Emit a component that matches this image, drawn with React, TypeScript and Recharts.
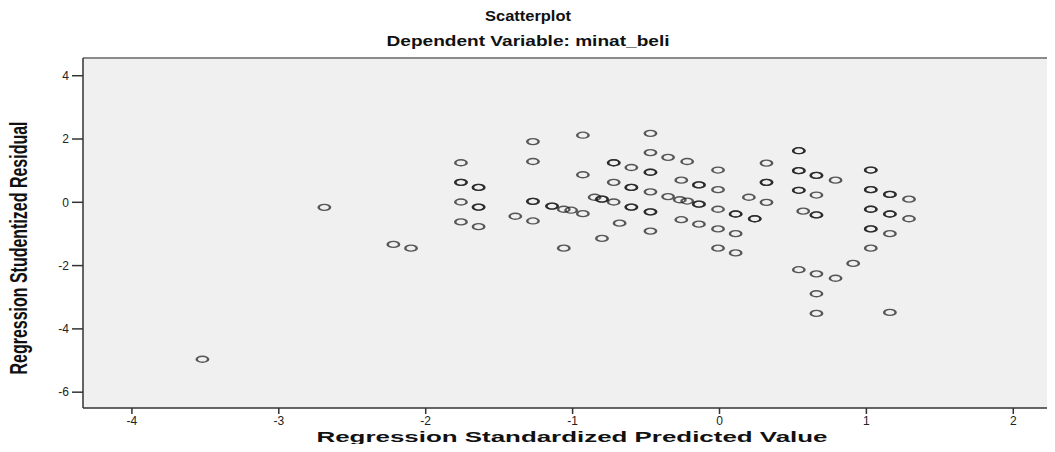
import React from "react";
import {
  ScatterChart,
  Scatter,
  XAxis,
  YAxis,
  CartesianGrid,
  ReferenceLine
} from "recharts";

// standardized predicted values (x); repeated entries are overlapping cases
const predicted = [
  -3.52, -2.69, -2.22, -2.1,
  -1.76, -1.76, -1.76, -1.76, -1.76, -1.64, -1.64, -1.64, -1.64, -1.64,
  -1.39, -1.27, -1.27, -1.27, -1.27, -1.27, -1.14, -1.14, -1.06, -1.01, -0.93, -1.06,
  -0.93, -0.93, -0.85, -0.8, -0.8, -0.72, -0.8, -0.72, -0.72, -0.72, -0.68,
  -0.6, -0.6, -0.6, -0.6, -0.6,
  -0.47, -0.47, -0.47, -0.47, -0.47, -0.47, -0.47, -0.47,
  -0.35, -0.35, -0.22, -0.26, -0.14, -0.14, -0.27, -0.22, -0.14, -0.14, -0.26, -0.14,
  -0.01, -0.01, -0.01, 0.11, 0.11, -0.01, 0.11, -0.01, 0.11, 0.2, 0.24, 0.24,
  0.32, 0.32, 0.32, 0.32,
  0.54, 0.54, 0.54, 0.54, 0.66, 0.66, 0.79, 0.54, 0.54, 0.66, 0.57, 0.66, 0.66,
  0.54, 0.66, 0.79, 0.66, 0.66, 0.91,
  1.03, 1.03, 1.03, 1.03, 1.03, 1.03, 1.03, 1.03, 1.03,
  1.16, 1.16, 1.16, 1.16, 1.16, 1.16, 1.29, 1.29
];

// studentized residuals (y), same order as predicted
const residual = [
  -4.96, -0.16, -1.33, -1.45,
  1.25, 0.63, 0.63, 0.01, -0.62, 0.47, 0.47, -0.15, -0.15, -0.77,
  -0.44, 1.92, 1.29, 0.03, 0.03, -0.59, -0.12, -0.12, -0.22, -0.25, -0.36, -1.45,
  2.12, 0.87, 0.16, 0.1, 0.1, 0.01, -1.14, 1.25, 1.25, 0.63, -0.66,
  1.1, 0.47, 0.47, -0.15, -0.15,
  2.18, 1.57, 0.95, 0.95, 0.33, -0.3, -0.3, -0.91,
  1.42, 0.18, 1.29, 0.7, 0.55, 0.55, 0.08, 0.04, -0.06, -0.06, -0.55, -0.69,
  1.02, 0.4, -0.22, -0.37, -0.37, -0.84, -0.99, -1.45, -1.6, 0.16, -0.52, -0.52,
  1.24, 0.63, 0.63, 0.0,
  1.63, 1.63, 1.0, 1.0, 0.85, 0.85, 0.7, 0.38, 0.38, 0.23, -0.28, -0.4, -0.4,
  -2.13, -2.26, -2.4, -2.89, -3.51, -1.93,
  1.02, 1.02, 0.4, 0.4, -0.22, -0.22, -0.84, -0.84, -1.45,
  0.25, 0.25, -0.37, -0.37, -0.99, -3.48, 0.1, -0.52
];

const xTicks = [-4, -3, -2, -1, 0, 1, 2];
const yTicks = [-6, -4, -2, 0, 2, 4];

const points = predicted.map((x, i) => ({ x, y: residual[i] }));

const font = "'Liberation Sans', Arial, sans-serif";

// SPSS marker: small open circle, stretched wide like the source image
const Ring = (props: any) => {
  const { cx, cy } = props;
  if (cx == null || cy == null) return null;
  return (
    <g transform={`translate(${cx},${cy}) scale(1.9,1)`}>
      <circle
        r={3}
        fill='none'
        stroke='#1a1a1a'
        strokeOpacity={0.72}
        strokeWidth={1.3}
      />
    </g>
  );
};

export default function App() {
  return (
    <div style={{ position: "relative", width: 1055, height: 452, margin: -8, background: "#fff" }}>
      <ScatterChart
        width={1055}
        height={452}
        margin={{ top: 58, right: 0, bottom: 0, left: 0 }}
      >
        <CartesianGrid horizontal={false} vertical={false} fill='#f0f0f0' />
        <XAxis
          type='number'
          dataKey='x'
          domain={[-4.333, 2.284]}
          allowDataOverflow
          ticks={xTicks}
          height={44}
          tickSize={6}
          tickMargin={2}
          stroke='#333'
          strokeWidth={1.5}
          tick={{ fill: "#222", fontSize: 12, fontFamily: font }}
        />
        <YAxis
          type='number'
          dataKey='y'
          domain={[-6.5, 4.56]}
          allowDataOverflow
          ticks={yTicks}
          width={83}
          tickSize={11}
          tickMargin={3}
          stroke='#333'
          strokeWidth={1.5}
          tick={{ fill: "#222", fontSize: 12, fontFamily: font }}
        />
        <ReferenceLine y={4.56} stroke='#8a8a8a' strokeWidth={2} />
        <Scatter
          data={points}
          shape={<Ring />}
          isAnimationActive={false}
        />
      </ScatterChart>
      <svg
        width={1055}
        height={452}
        style={{ position: "absolute", left: 0, top: 0, pointerEvents: "none" }}
      >
        <text
          x={528}
          y={21}
          textAnchor='middle'
          fontFamily={font}
          fontWeight='bold'
          fontSize={15}
          fill='#111'
          textLength={86}
          lengthAdjust='spacingAndGlyphs'
        >
          Scatterplot
        </text>
        <text
          x={528}
          y={46}
          textAnchor='middle'
          fontFamily={font}
          fontWeight='bold'
          fontSize={15}
          fill='#111'
          textLength={283}
          lengthAdjust='spacingAndGlyphs'
        >
          Dependent Variable: minat_beli
        </text>
        <text
          x={572}
          y={442}
          textAnchor='middle'
          fontFamily={font}
          fontWeight='bold'
          fontSize={15}
          fill='#111'
          textLength={511}
          lengthAdjust='spacingAndGlyphs'
        >
          Regression Standardized Predicted Value
        </text>
        <text
          transform='translate(27,248) scale(1.45,1) rotate(-90)'
          textAnchor='middle'
          fontFamily={font}
          fontWeight='bold'
          fontSize={16}
          fill='#111'
          textLength={253}
          lengthAdjust='spacingAndGlyphs'
        >
          Regression Studentized Residual
        </text>
      </svg>
    </div>
  );
}
